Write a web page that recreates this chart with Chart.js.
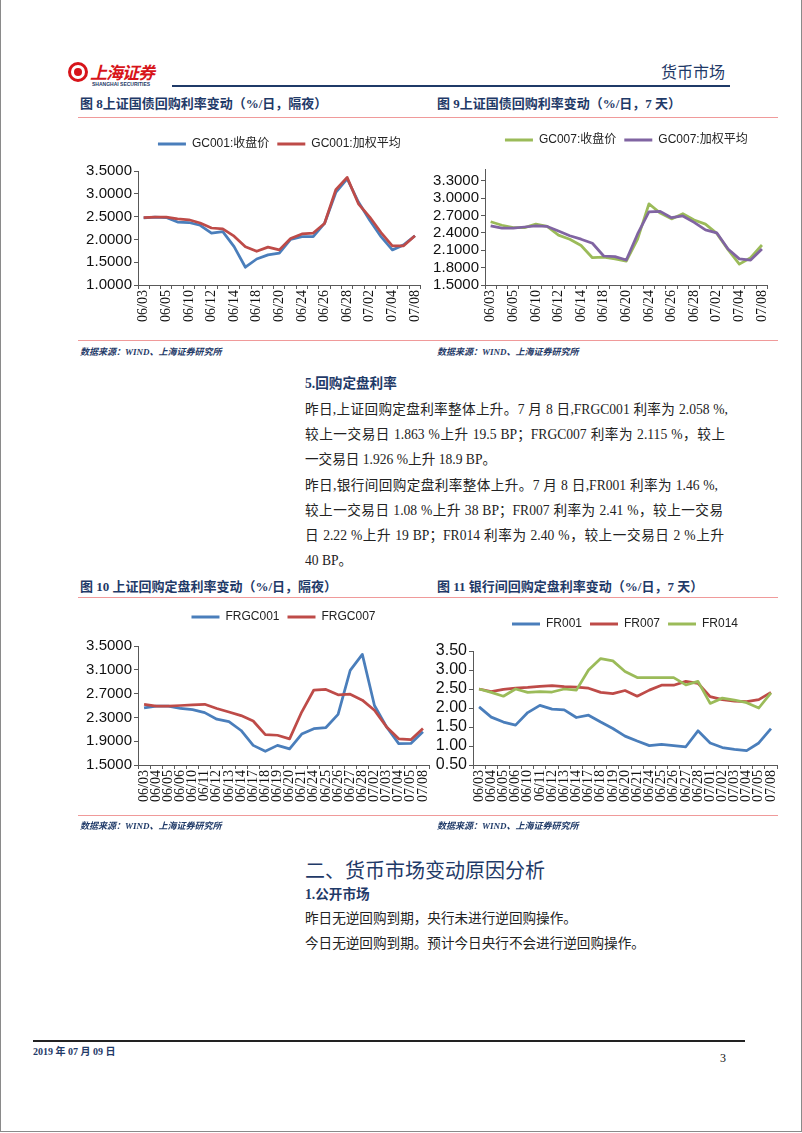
<!DOCTYPE html>
<html lang="zh-CN">
<head>
<meta charset="UTF-8">
<title>货币市场</title>
<script src="https://cdn.jsdelivr.net/npm/chart.js@4"></script>
<style>
    html, body { margin: 0; padding: 0; background: #fff; }
    body { width: 802px; height: 1133px; position: relative; overflow: hidden;
           font-family: "Liberation Serif", "Noto Sans CJK SC", serif; color: #222; }
    .abs { position: absolute; white-space: nowrap; }
    .border { position: absolute; left: 0; top: -1px; width: 800px; height: 1131px; border: 1px solid #8a8a8a; }
    .navy { color: #1f3a68; }
    .rule { position: absolute; left: 78px; width: 700px; height: 1px; background: #f09a9a; }
    .figt { font-size: 13px; font-weight: bold; line-height: 16px; }
    .src { font-size: 9px; font-weight: bold; font-style: italic; line-height: 14px; }
    .txt { position: absolute; left: 305px; font-size: 13.6px; line-height: 20px; height: 20px; white-space: nowrap; }
    .just { text-align: justify; text-align-last: justify; }
    canvas { position: absolute; }
</style>
</head>
<body>

<div class="border"></div>

<!-- en-tete -->
<div class="abs" style="left:68px; top:62px; width:14px; height:14px; border:3px solid #d7141a; border-radius:50%;"></div>
<div class="abs" style="left:74px; top:68px; width:8px; height:8px; background:#d7141a; border-radius:50%;"></div>
<div class="abs" style="left:90px; top:59px; font-size:17px; font-weight:bold; font-style:italic; color:#d7141a; letter-spacing:-1px; font-family:'Noto Sans CJK SC';">上海证券</div>
<div class="abs navy" style="left:92px; top:81px; font-size:5px; font-weight:bold; font-family:'Liberation Sans';">SHANGHAI SECURITIES</div>
<div class="abs navy" style="left:661px; top:59px; font-size:16px; font-family:'Noto Sans CJK SC';">货币市场</div>
<div class="abs" style="left:172px; top:85px; width:558px; height:2px; background:#1f3a68;"></div>

<div class="abs navy figt" style="left:80px; top:96px;">图 8上证国债回购利率变动（%/日，隔夜）</div>
<div class="abs navy figt" style="left:437px; top:96px;">图 9上证国债回购利率变动（%/日，7 天）</div>
<div class="rule" style="top:117px;"></div>

<canvas id="chartGC001" width="358" height="209" style="left:75px; top:130px;"></canvas>
<canvas id="chartGC007" width="348" height="213" style="left:432px; top:126px;"></canvas>

<div class="rule" style="top:340px;"></div>
<div class="abs navy src" style="left:80px; top:345px;">数据来源：WIND、上海证券研究所</div>
<div class="abs navy src" style="left:437px; top:345px;">数据来源：WIND、上海证券研究所</div>

<div class="txt navy" style="top:374px; font-weight:bold;">5.回购定盘利率</div>
<div class="txt just" style="top:400px; width:423px;">昨日,上证回购定盘利率整体上升。7 月 8 日,FRGC001 利率为 2.058 %,</div>
<div class="txt just" style="top:425px; width:420px;">较上一交易日 1.863 %上升 19.5 BP；FRGC007 利率为 2.115 %，较上</div>
<div class="txt" style="top:450px;">一交易日 1.926 %上升 18.9 BP。</div>
<div class="txt just" style="top:476px; width:413px;">昨日,银行间回购定盘利率整体上升。7 月 8 日,FR001 利率为 1.46 %,</div>
<div class="txt just" style="top:501px; width:418px;">较上一交易日 1.08 %上升 38 BP；FR007 利率为 2.41 %，较上一交易</div>
<div class="txt just" style="top:526px; width:419px;">日 2.22 %上升 19 BP；FR014 利率为 2.40 %，较上一交易日 2 %上升</div>
<div class="txt" style="top:551px;">40 BP。</div>

<div class="abs navy figt" style="left:80px; top:579px;">图 10 上证回购定盘利率变动（%/日，隔夜）</div>
<div class="abs navy figt" style="left:437px; top:579px;">图 11 银行间回购定盘利率变动（%/日，7 天）</div>
<div class="rule" style="top:597px;"></div>

<canvas id="chartFRGC" width="366" height="216" style="left:75px; top:603px;"></canvas>
<canvas id="chartFR" width="357" height="209" style="left:432px; top:610px;"></canvas>

<div class="rule" style="top:815px;"></div>
<div class="abs navy src" style="left:80px; top:819px;">数据来源：WIND、上海证券研究所</div>
<div class="abs navy src" style="left:437px; top:819px;">数据来源：WIND、上海证券研究所</div>

<div class="abs navy" style="left:305px; top:856px; font-size:20px; line-height:28px; font-family:'Noto Sans CJK SC';">二、货币市场变动原因分析</div>
<div class="txt navy" style="top:885px; font-weight:bold;">1.公开市场</div>
<div class="txt" style="top:909px;">昨日无逆回购到期，央行未进行逆回购操作。</div>
<div class="txt" style="top:934px;">今日无逆回购到期。预计今日央行不会进行逆回购操作。</div>

<!-- pied de page -->
<div class="abs" style="left:33px; top:1040px; width:712px; height:2px; background:#222;"></div>
<div class="abs navy" style="left:33px; top:1045px; font-size:10px; font-weight:bold; line-height:14px;">2019 年 07 月 09 日</div>
<div class="abs" style="left:720px; top:1050px; font-size:12px; line-height:16px; color:#111;">3</div>

<script>
    // dates
    const days = ['06/03','06/04','06/05','06/06','06/10','06/11','06/12','06/13','06/14','06/17','06/18','06/19','06/20',
                  '06/21','06/24','06/25','06/26','06/27','06/28','07/01','07/02','07/03','07/04','07/05','07/08'];
    const daysFrgc = ['06/03','06/04','06/05','06/06','06/10','06/11','06/12','06/13','06/14','06/17','06/18','06/19','06/20',
                      '06/21','06/24','06/25','06/26','06/27','06/28','07/02','07/03','07/04','07/05','07/08'];

    // GC001 / GC007 (%)
    const gc001Close = [2.47,2.49,2.48,2.38,2.37,2.31,2.14,2.17,1.84,1.39,1.57,1.66,1.70,2.00,2.06,2.06,2.35,3.03,3.33,2.82,2.42,2.06,1.77,1.88,2.08];
    const gc001Wavg  = [2.48,2.49,2.49,2.45,2.43,2.36,2.25,2.23,2.07,1.84,1.74,1.83,1.77,2.02,2.12,2.14,2.35,3.09,3.36,2.78,2.49,2.15,1.86,1.86,2.08];
    const gc007Close = [2.59,2.53,2.49,2.49,2.55,2.51,2.36,2.29,2.18,1.97,1.98,1.95,1.91,2.29,2.90,2.74,2.64,2.73,2.62,2.55,2.39,2.11,1.86,1.97,2.19];
    const gc007Wavg  = [2.52,2.48,2.48,2.50,2.52,2.51,2.43,2.35,2.29,2.22,2.00,1.99,1.93,2.38,2.76,2.77,2.66,2.69,2.58,2.45,2.40,2.12,1.95,1.93,2.12];

    // fixing
    const frgc001 = [2.46,2.49,2.49,2.45,2.43,2.38,2.27,2.23,2.08,1.83,1.73,1.83,1.77,2.02,2.11,2.13,2.35,3.09,3.36,2.50,2.14,1.86,1.863,2.058];
    const frgc007 = [2.52,2.49,2.49,2.50,2.51,2.52,2.45,2.39,2.33,2.24,2.01,2.00,1.94,2.39,2.76,2.77,2.68,2.69,2.59,2.42,2.14,1.94,1.926,2.115];
    const fr001 = [2.03,1.76,1.63,1.55,1.88,2.07,1.97,1.95,1.75,1.81,1.63,1.46,1.26,1.13,1.01,1.04,1.01,0.98,1.40,1.08,0.96,0.91,0.88,1.08,1.46];
    const fr007 = [2.50,2.43,2.49,2.52,2.54,2.57,2.59,2.56,2.55,2.52,2.41,2.38,2.46,2.31,2.47,2.60,2.60,2.70,2.65,2.30,2.22,2.18,2.17,2.22,2.41];
    const fr014 = [2.50,2.41,2.31,2.50,2.41,2.43,2.42,2.50,2.47,3.00,3.30,3.24,2.96,2.80,2.80,2.80,2.80,2.61,2.70,2.12,2.26,2.21,2.14,2.00,2.40];

    const BLUE = '#4a7ebb', RED = '#be4b48', GREEN = '#9bbb59', PURPLE = '#8064a2';
    const axisColor = '#595959';

    function lineChart(id, labels, series, o) {
        const ctx = document.getElementById(id).getContext('2d');
        return new Chart(ctx, {
            type: 'line',
            data: {
                labels: labels,
                datasets: series.map((s, i) => ({
                    label: s.label,
                    data: s.data,
                    borderColor: s.color,
                    backgroundColor: s.color,
                    borderWidth: 2.75,
                    pointRadius: 0,
                    tension: 0,
                    fill: false,
                    borderJoinStyle: 'round',
                    order: -i
                }))
            },
            options: {
                responsive: false,
                animation: false,
                devicePixelRatio: 1,
                layout: { autoPadding: false, padding: { right: 6 } },
                plugins: {
                    tooltip: { enabled: false },
                    legend: {
                        position: 'top',
                        fullSize: false,
                        labels: {
                            boxWidth: 28,
                            boxHeight: 3,
                            padding: 8,
                            color: '#222',
                            font: { family: '"Liberation Sans", "Noto Sans CJK SC"', size: 12 },
                            sort: (a, b) => a.datasetIndex - b.datasetIndex,
                            generateLabels: chart => Chart.defaults.plugins.legend.labels.generateLabels(chart)
                                .map(l => Object.assign(l, { fillStyle: l.strokeStyle, lineWidth: 0 }))
                        }
                    },
                    // espace vide entre la legende et le graphique
                    subtitle: {
                        display: true, text: '', weight: 500,
                        font: { size: 1, lineHeight: 1 },
                        padding: { top: 0, bottom: o.gap - 1 }
                    }
                },
                scales: {
                    x: {
                        offset: true,
                        border: { display: true, color: axisColor },
                        grid: { drawOnChartArea: false, tickLength: 4, color: axisColor, offset: true },
                        ticks: {
                            autoSkip: false,
                            minRotation: 90,
                            maxRotation: 90,
                            padding: 1,
                            color: '#111',
                            font: { family: '"Liberation Serif", serif', size: 14 },
                            callback: function (v, i) {
                                return (o.everyOther && i % 2) ? '' : this.getLabelForValue(v);
                            }
                        },
                        afterFit: s => { s.height = 54; }
                    },
                    y: {
                        min: o.min,
                        max: o.max,
                        border: { display: true, color: axisColor },
                        grid: { drawOnChartArea: false, tickLength: 4, color: axisColor },
                        ticks: {
                            stepSize: o.step,
                            autoSkip: false,
                            includeBounds: false,
                            padding: 2,
                            color: '#111',
                            font: { family: '"Liberation Sans", Arial, sans-serif', size: o.ySize || 15 },
                            callback: v => v.toFixed(o.dec)
                        },
                        afterFit: s => { s.width = o.yWidth; }
                    }
                }
            }
        });
    }

    lineChart('chartGC001', days, [
        { label: 'GC001:收盘价', data: gc001Close, color: BLUE },
        { label: 'GC001:加权平均', data: gc001Wavg, color: RED }
    ], { min: 1, max: 3.5, step: 0.5, dec: 4, yWidth: 63, gap: 11, everyOther: true });

    lineChart('chartGC007', days, [
        { label: 'GC007:收盘价', data: gc007Close, color: GREEN },
        { label: 'GC007:加权平均', data: gc007Wavg, color: PURPLE }
    ], { min: 1.5, max: 3.5, step: 0.3, dec: 4, yWidth: 53, gap: 13, everyOther: true });

    lineChart('chartFRGC', daysFrgc, [
        { label: 'FRGC001', data: frgc001, color: BLUE },
        { label: 'FRGC007', data: frgc007, color: RED }
    ], { min: 1.5, max: 3.5, step: 0.4, dec: 4, yWidth: 63, gap: 13 });

    lineChart('chartFR', days, [
        { label: 'FR001', data: fr001, color: BLUE },
        { label: 'FR007', data: fr007, color: RED },
        { label: 'FR014', data: fr014, color: GREEN }
    ], { min: 0.5, max: 3.5, step: 0.5, dec: 2, yWidth: 41, gap: 11, ySize: 16 });
</script>

</body>
</html>
